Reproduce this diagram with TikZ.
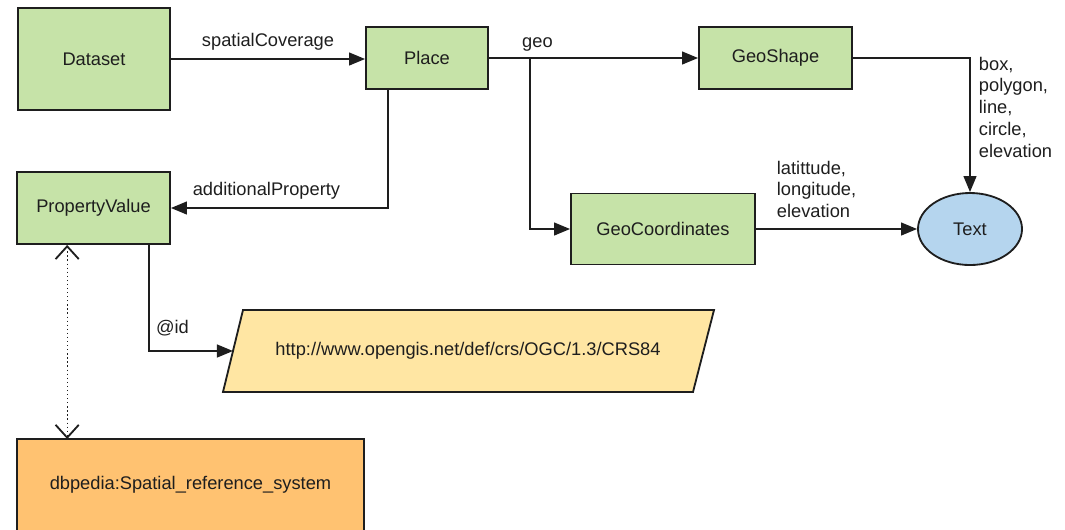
\documentclass[tikz,border=0pt]{standalone}
\usepackage{fontspec}
\setmainfont{Liberation Sans}
\usetikzlibrary{shapes.geometric,arrows.meta,calc}

\definecolor{clsgreen}{HTML}{C6E3A8}
\definecolor{txtblue}{HTML}{B5D5EE}
\definecolor{uriyellow}{HTML}{FFE6A3}
\definecolor{extorange}{HTML}{FFC271}
\definecolor{ink}{HTML}{1E1E1E}

\begin{document}
\begin{tikzpicture}[x=0.025cm, y=-0.025cm, line width=1.3pt, draw=ink, text=ink,
  font=\fontsize{13}{15.5}\selectfont,
  cls/.style={draw, fill=clsgreen, inner sep=0pt},
  arr/.style={-{Triangle[length=4mm,width=3.2mm]}},
  lbl/.style={align=left, inner sep=0pt, anchor=north west}]
\useasboundingbox (0,0) rectangle (1065,529);

\node[cls, minimum width=3.8cm, minimum height=2.55cm] (dataset) at (94,59) {Dataset};
\node[cls, minimum width=3.05cm, minimum height=1.55cm] (place) at (427,58) {Place};
\node[cls, minimum width=3.825cm, minimum height=1.55cm] (geoshape) at (775.5,58) {GeoShape};
\node[cls, minimum width=3.825cm, minimum height=1.8cm] (propval) at (93.5,208) {PropertyValue};
\node[cls, minimum width=4.6cm, minimum height=1.775cm] (geocoord) at (663,229) {GeoCoordinates};
\node[ellipse, draw, fill=txtblue, inner sep=0pt, minimum width=2.6cm, minimum height=1.8cm] (text) at (970,229) {Text};

\filldraw[fill=uriyellow] (243,310) -- (714,310) -- (693,392) -- (223,392) -- cycle;
\node (uri) at (468,351) {http://www.opengis.net/def/crs/OGC/1.3/CRS84};
\coordinate (uriin) at (233,351);

\filldraw[fill=extorange] (17,439) rectangle (364,531);
\node (crs) at (190.5,484.5) {dbpedia:Spatial\_reference\_system};

\draw[arr] (dataset.east |- 0,59) -- (place.west |- 0,59) node[midway, above=2pt] {spatialCoverage};
\draw[arr] (place.east) -- (geoshape.west) node[pos=0.232, above=1pt] {geo};
\coordinate (split) at (530,58);
\draw[arr] (split) |- (geocoord.west);
\draw[arr] (geoshape.east) -| (text.north);
\node[lbl] (shapes) at (978,56) {box,\\polygon,\\line,\\circle,\\elevation};
\draw[arr] (geocoord.east) -- (text.west);
\node[lbl] (coords) at (776,160) {latittude,\\longitude,\\elevation};
\draw[arr] ($(place.south west)+(23,0)$) |- (propval.east) node[pos=0.78, above=2pt] {additionalProperty};
\draw[arr] ($(propval.south east)+(-22,0)$) |- (uriin) node[pos=0.64, above=7pt] {@id};

\coordinate (pvfoot) at ($(propval.south west)!0.33!(propval.south east)$);
\draw[line width=0.9pt, dotted, {Straight Barb[length=3.2mm,width=5.8mm,line width=1.3pt]}-{Straight Barb[length=3.2mm,width=5.8mm,line width=1.3pt]}]
  (pvfoot) -- (pvfoot |- 0,439);
\end{tikzpicture}
\end{document}
